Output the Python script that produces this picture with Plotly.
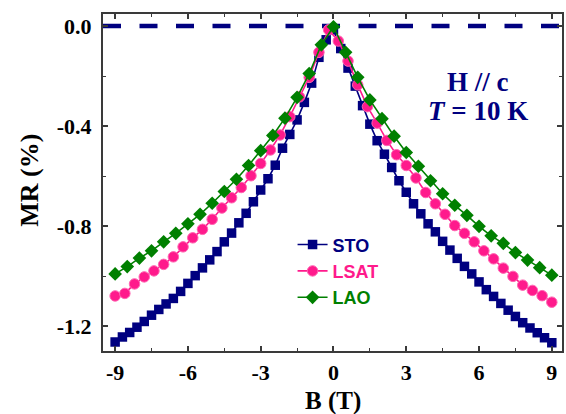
import plotly.graph_objects as go

# ---------------- data ----------------
sto_B = [-9.0, -8.7, -8.4, -8.1, -7.8, -7.5, -7.2, -6.9, -6.6, -6.3, -6.0, -5.7, -5.4, -5.1,
         -4.8, -4.5, -4.2, -3.9, -3.6, -3.3, -3.0, -2.7, -2.4, -2.1, -1.8, -1.5, -1.2, -0.9,
         -0.6, -0.3, 0.0, 0.3, 0.6, 0.9, 1.2, 1.5, 1.8, 2.1, 2.4, 2.7, 3.0, 3.3, 3.6, 3.9,
         4.2, 4.5, 4.8, 5.1, 5.4, 5.7, 6.0, 6.3, 6.6, 6.9, 7.2, 7.5, 7.8, 8.1, 8.4, 8.7, 9.0]
sto_MR = [-1.262, -1.242, -1.224, -1.203, -1.180, -1.155, -1.132, -1.110, -1.088, -1.060,
          -1.028, -0.997, -0.966, -0.934, -0.901, -0.862, -0.827, -0.786, -0.748, -0.702,
          -0.655, -0.610, -0.556, -0.488, -0.433, -0.375, -0.305, -0.228, -0.125, -0.055,
          -0.015, -0.090, -0.168, -0.240, -0.318, -0.392, -0.458, -0.512, -0.565, -0.618,
          -0.664, -0.710, -0.750, -0.790, -0.822, -0.860, -0.895, -0.928, -0.960, -0.990,
          -1.022, -1.053, -1.080, -1.108, -1.135, -1.160, -1.185, -1.206, -1.225, -1.245, -1.265]

lsat_B = [-9.0, -8.6, -8.2, -7.8, -7.4, -7.0, -6.6, -6.2, -5.8, -5.4, -5.0, -4.6, -4.2, -3.8,
          -3.4, -3.0, -2.6, -2.2, -1.8, -1.4, -1.0, -0.6, -0.2, 0.2, 0.6, 1.0, 1.4, 1.8, 2.2,
          2.6, 3.0, 3.4, 3.8, 4.2, 4.6, 5.0, 5.4, 5.8, 6.2, 6.6, 7.0, 7.4, 7.8, 8.2, 8.6, 9.0]
lsat_MR = [-1.078, -1.068, -1.030, -1.002, -0.978, -0.952, -0.922, -0.882, -0.846, -0.812,
           -0.772, -0.727, -0.686, -0.645, -0.598, -0.549, -0.495, -0.435, -0.362, -0.283,
           -0.205, -0.105, -0.015, -0.060, -0.140, -0.235, -0.322, -0.388, -0.457, -0.514,
           -0.557, -0.607, -0.665, -0.710, -0.752, -0.797, -0.828, -0.862, -0.898, -0.930,
           -0.967, -1.000, -1.035, -1.056, -1.077, -1.103]

lao_B = [-9.0, -8.5, -8.0, -7.5, -7.0, -6.5, -6.0, -5.5, -5.0, -4.5, -4.0, -3.5, -3.0, -2.5,
         -2.0, -1.5, -1.0, -0.5, 0.0, 0.5, 1.0, 1.5, 2.0, 2.5, 3.0, 3.5, 4.0, 4.5, 5.0, 5.5,
         6.0, 6.5, 7.0, 7.5, 8.0, 8.5, 9.0]
lao_MR = [-0.990, -0.961, -0.927, -0.898, -0.862, -0.828, -0.790, -0.752, -0.708, -0.661,
          -0.612, -0.557, -0.498, -0.437, -0.368, -0.285, -0.190, -0.075, -0.003, -0.105,
          -0.205, -0.295, -0.370, -0.440, -0.505, -0.560, -0.618, -0.670, -0.716, -0.756,
          -0.800, -0.838, -0.868, -0.905, -0.935, -0.965, -0.995]

x_ticks = [-9, -6, -3, 0, 3, 6, 9]
y_ticks = [-1.2, -0.8, -0.4, 0.0]

NAVY = "#000080"
PINK = "#FF1A8C"
GREEN = "#008000"
AXC = "#3a3a3a"
SERIF = "Liberation Serif"
SANS = "Liberation Sans"

fig = go.Figure()

fig.add_trace(go.Scatter(
    x=sto_B, y=sto_MR, mode="lines+markers",
    name=f'<span style="color:{NAVY}">STO</span>',
    line=dict(color=NAVY, width=1.6),
    marker=dict(symbol="square", size=9.5, color=NAVY)))
fig.add_trace(go.Scatter(
    x=lsat_B, y=lsat_MR, mode="lines+markers",
    name=f'<span style="color:{PINK}">LSAT</span>',
    line=dict(color=PINK, width=1.6),
    marker=dict(symbol="circle", size=10.5, color=PINK,
                line=dict(color="#ff66b3", width=1))))
fig.add_trace(go.Scatter(
    x=lao_B, y=lao_MR, mode="lines+markers",
    name=f'<span style="color:{GREEN}">LAO</span>',
    line=dict(color=GREEN, width=1.6),
    marker=dict(symbol="diamond", size=10.5, color=GREEN)))

# zero reference line (dashed)
fig.add_shape(type="line", xref="paper", yref="y", x0=0, x1=1, y0=0, y1=0,
              line=dict(color=NAVY, width=4.5, dash="18px,18.5px"), layer="below")

axis_common = dict(
    showline=True, linecolor=AXC, linewidth=2, mirror="ticks",
    ticks="inside", ticklen=5, tickwidth=1.6, tickcolor=AXC,
    showgrid=False, zeroline=False, automargin=False,
    tickfont=dict(family=SERIF, size=22, color="black", weight="bold"),
)

fig.update_xaxes(
    range=[-9.5, 9.42], tickvals=x_ticks, ticktext=[str(v) for v in x_ticks],
    minor=dict(ticks="inside", dtick=1.5, tick0=0, ticklen=3, tickwidth=1.4, tickcolor=AXC),
    ticklabelstandoff=1, **axis_common)
fig.update_yaxes(
    range=[-1.298, 0.048], tickvals=y_ticks, ticktext=[f"{v:.1f}" for v in y_ticks],
    minor=dict(ticks="inside", dtick=0.2, tick0=0, ticklen=3, tickwidth=1.4, tickcolor=AXC),
    ticklabelstandoff=5, **axis_common)

fig.add_annotation(text="<b>B (T)</b>", xref="paper", yref="paper", x=0.5, y=-0.148,
                   showarrow=False, xanchor="center", yanchor="middle",
                   font=dict(family=SERIF, size=25, color="black"))
fig.add_annotation(text="<b>MR (%)</b>", xref="paper", yref="paper", x=-0.16, y=0.507,
                   showarrow=False, xanchor="center", yanchor="middle", textangle=-90,
                   font=dict(family=SERIF, size=26, color="black"))
fig.add_annotation(text="<b>H // c</b>", xref="paper", yref="paper", x=0.817, y=0.798,
                   showarrow=False, xanchor="center", yanchor="middle",
                   font=dict(family=SERIF, size=27, color=NAVY))
fig.add_annotation(text="<b><i>T</i> = 10 K</b>", xref="paper", yref="paper", x=0.817, y=0.712,
                   showarrow=False, xanchor="center", yanchor="middle",
                   font=dict(family=SERIF, size=27, color=NAVY))

fig.update_layout(
    width=566, height=414,
    margin=dict(l=103, r=4, t=14, b=63, autoexpand=False),
    paper_bgcolor="white", plot_bgcolor="white",
    showlegend=True,
    legend=dict(x=0.413, y=0.37, xanchor="left", yanchor="top",
                bgcolor="rgba(0,0,0,0)", borderwidth=0,
                font=dict(family=SANS, size=18, weight="bold"),
                tracegroupgap=0, itemsizing="trace"),
)

fig.write_html("out.html", config={"displayModeBar": False},
               post_script="document.body.style.margin='0px';document.body.style.overflow='hidden';")
